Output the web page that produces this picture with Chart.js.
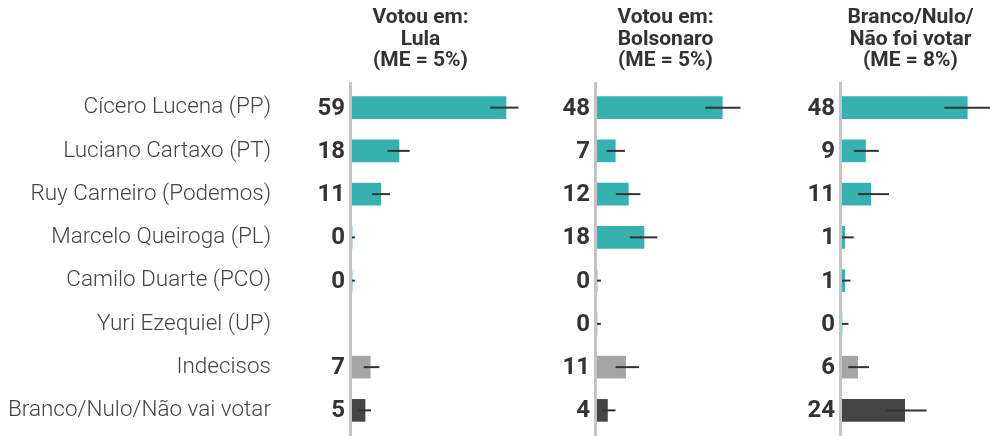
<!DOCTYPE html>
<html>
<head>
<meta charset="utf-8">
<script src="https://cdn.jsdelivr.net/npm/chart.js@4.4.1/dist/chart.umd.min.js"></script>
<style>
  html, body { margin: 0; padding: 0; background: #fff; }
  #wrap { position: relative; width: 990px; height: 436px; overflow: hidden; }
  canvas { position: absolute; top: 0; }
</style>
</head>
<body>
<div id="wrap">
  <canvas id="c1" width="740" height="436" style="left:0px"></canvas>
  <canvas id="c2" width="292" height="436" style="left:525px"></canvas>
  <canvas id="c3" width="220" height="436" style="left:770px"></canvas>
</div>
<script>
// categorias (candidatos)
const categories = [
  'Cícero Lucena (PP)',
  'Luciano Cartaxo (PT)',
  'Ruy Carneiro (Podemos)',
  'Marcelo Queiroga (PL)',
  'Camilo Duarte (PCO)',
  'Yuri Ezequiel (UP)',
  'Indecisos',
  'Branco/Nulo/Não vai votar'
];

// títulos dos painéis
const titleLula = ['Votou em:', 'Lula', '(ME = 5%)'];
const titleBolsonaro = ['Votou em:', 'Bolsonaro', '(ME = 5%)'];
const titleBranco = ['Branco/Nulo/', 'Não foi votar', '(ME = 8%)'];

// valores (%)
const lulaValues = [59, 18, 11, 0, 0, null, 7, 5];
const lulaLow = [53, 13.6, 7.7, 0, 0, null, 4.5, 2.5];
const lulaHigh = [63.8, 22.1, 14.6, 1.1, 1.1, null, 10.5, 7.3];

const bolsoValues = [48, 7, 12, 18, 0, 0, 11, 4];
const bolsoLow = [41.5, 3.6, 7.2, 12.6, 0, 0, 7.1, 2];
const bolsoHigh = [55, 10.7, 16.6, 23.1, 1.5, 1.5, 16.1, 7.1];

const brancoValues = [48, 9, 11, 1, 1, 0, 6, 24];
const brancoLow = [39.2, 4.5, 6.2, 0, 0, 0, 2.4, 17];
const brancoHigh = [58, 14.1, 18, 4.5, 3.2, 2.5, 10.4, 32.4];

// cores
const TEAL = '#35b1b0';
const GRAY = '#a5a5a5';
const DARK = '#454545';
const barColors = [TEAL, TEAL, TEAL, TEAL, TEAL, TEAL, GRAY, DARK];

const PX_PER_UNIT = 2.61;
const FONT = 'Roboto';

// plugin: eixo, barras de erro, rótulos de valor e título
const decorPlugin = {
  id: 'decor',
  beforeDatasetsDraw(chart) {
    const ctx = chart.ctx;
    const a = chart.chartArea;
    const x0 = chart.scales.x.getPixelForValue(0);
    ctx.save();
    ctx.strokeStyle = '#c4c4c4';
    ctx.lineWidth = 3;
    ctx.beginPath();
    ctx.moveTo(x0 - 1.5, a.top - 4);
    ctx.lineTo(x0 - 1.5, chart.height);
    ctx.stroke();
    ctx.restore();
  },
  afterDatasetsDraw(chart, args, opts) {
    const ctx = chart.ctx;
    const xs = chart.scales.x;
    const ys = chart.scales.y;
    const vals = chart.data.datasets[0].data;
    ctx.save();
    // barras de erro
    ctx.strokeStyle = '#333';
    ctx.lineWidth = 2;
    vals.forEach(function(v, i) {
      if (v === null) return;
      const y = ys.getPixelForValue(i);
      ctx.beginPath();
      ctx.moveTo(xs.getPixelForValue(opts.low[i]), y);
      ctx.lineTo(xs.getPixelForValue(opts.high[i]), y);
      ctx.stroke();
    });
    // rótulos de valor
    ctx.fillStyle = '#333';
    ctx.font = 'bold 24px ' + FONT;
    ctx.textAlign = 'right';
    ctx.textBaseline = 'middle';
    vals.forEach(function(v, i) {
      if (v === null) return;
      ctx.fillText(String(v), xs.getPixelForValue(0) - 7, ys.getPixelForValue(i) + 1);
    });
    // título
    ctx.font = 'bold 21px ' + FONT;
    ctx.textAlign = 'center';
    ctx.textBaseline = 'alphabetic';
    const cx = xs.getPixelForValue(0) + 68.5;
    opts.title.forEach(function(line, k) {
      ctx.fillText(line, cx, 23 + k * 21.5);
    });
    ctx.restore();
  }
};

function makeChart(id, values, low, high, title, axisWidth, showLabels) {
  const canvas = document.getElementById(id);
  const areaWidth = canvas.width - axisWidth;
  return new Chart(canvas.getContext('2d'), {
    type: 'bar',
    data: {
      labels: categories,
      datasets: [{
        data: values,
        backgroundColor: barColors,
        barThickness: 22,
        borderWidth: 0
      }]
    },
    options: {
      indexAxis: 'y',
      responsive: false,
      animation: false,
      devicePixelRatio: 1,
      layout: { padding: { top: 86, bottom: 4, left: 0, right: 0 } },
      plugins: {
        legend: { display: false },
        tooltip: { enabled: false },
        decor: { low: low, high: high, title: title }
      },
      scales: {
        x: {
          type: 'linear',
          min: 0,
          max: areaWidth / PX_PER_UNIT,
          display: false
        },
        y: {
          type: 'category',
          grid: { display: false, drawTicks: false },
          border: { display: false },
          ticks: {
            display: showLabels,
            autoSkip: false,
            padding: 81,
            color: '#444',
            font: { family: FONT, size: 22.5, weight: '300' }
          },
          afterFit: function(scale) {
            scale.width = axisWidth;
            scale.paddingTop = 0;
            scale.paddingBottom = 0;
          }
        }
      }
    },
    plugins: [decorPlugin]
  });
}

makeChart('c1', lulaValues, lulaLow, lulaHigh, titleLula, 352, true);
makeChart('c2', bolsoValues, bolsoLow, bolsoHigh, titleBolsonaro, 72, false);
makeChart('c3', brancoValues, brancoLow, brancoHigh, titleBranco, 72, false);
</script>
</body>
</html>
